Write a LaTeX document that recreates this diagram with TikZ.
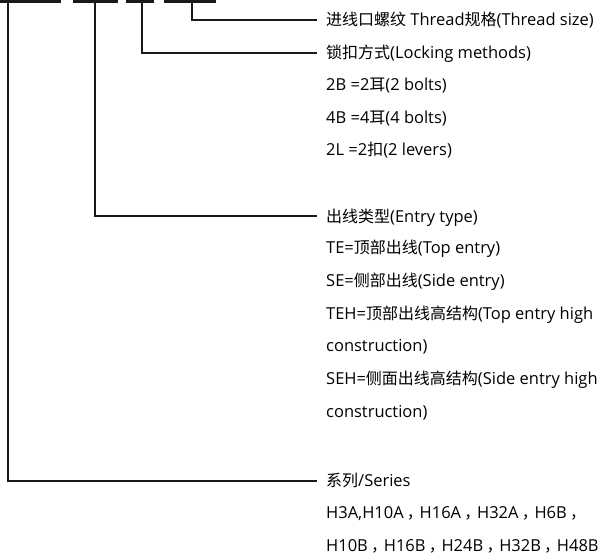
\documentclass[tikz,border=0pt]{standalone}
\usepackage{fontspec}
\setmainfont{Open Sans}[Scale=1.03]
\newfontfamily\cjk{Noto Sans CJK SC}
\newcommand{\fwcomma}{\hspace*{0.2em}{\cjk ，}\hspace*{-0.2em}}
\begin{document}
\begin{tikzpicture}[x=1bp,y=-1bp,
  lbl/.style={anchor=west, inner sep=0pt, text height=11.5bp, text depth=0pt,
              font=\fontsize{16bp}{19bp}\selectfont, text=black},
  bar/.style={line width=2.6bp, black!90},
  conn/.style={line width=2bp, black!90}]
\useasboundingbox (0,0) rectangle (605,557);
% top bars
\draw[bar] (0,1.5) -- (60.5,1.5);
\draw[bar] (73,1.5) -- (117.5,1.5);
\draw[bar] (126,1.5) -- (154,1.5);
\draw[bar] (164,1.5) -- (216,1.5);
\coordinate (s1) at (192.3,1.5);
\coordinate (s2) at (141.7,1.5);
\coordinate (s3) at (95,1.5);
\coordinate (s4) at (8.3,1.5);
% labels
\node[lbl] (t1) at (326,20) {{\cjk 进线口螺纹} Thread{\cjk 规格}(Thread size)};
\node[lbl] (t2) at (326,53) {{\cjk 锁扣方式}(Locking methods)};
\node[lbl] (t3) at (326,85) {2B =2{\cjk 耳}(2 bolts)};
\node[lbl] (t4) at (326,117.5) {4B =4{\cjk 耳}(4 bolts)};
\node[lbl] (t5) at (326,150) {2L =2{\cjk 扣}(2 levers)};
\node[lbl] (t6) at (326,216.5) {{\cjk 出线类型}(Entry type)};
\node[lbl] (t7) at (326,248) {TE={\cjk 顶部出线}(Top entry)};
\node[lbl] (t8) at (326,281) {SE={\cjk 侧部出线}(Side entry)};
\node[lbl] (t9) at (326,313.5) {TEH={\cjk 顶部出线高结构}(Top entry high};
\node[lbl] (t10) at (326,346) {construction)};
\node[lbl] (t11) at (326,379) {SEH={\cjk 侧面出线高结构}(Side entry high};
\node[lbl] (t12) at (326,411.5) {construction)};
\node[lbl] (t13) at (326,481) {{\cjk 系列}/Series};
\node[lbl] (t14) at (326,513) {H3A,H10A\fwcomma H16A\fwcomma H32A\fwcomma H6B\fwcomma};
\node[lbl] (t15) at (326,545.5) {H10B\fwcomma H16B\fwcomma H24B\fwcomma H32B\fwcomma H48B};
% connectors
\draw[conn] (s1) |- ([xshift=-9bp]t1.west);
\draw[conn] (s2) |- ([xshift=-9bp]t2.west);
\draw[conn] (s3) |- ([xshift=-9bp]t6.west);
\draw[conn] (s4) |- ([xshift=-9bp]t13.west);
\end{tikzpicture}
\end{document}
